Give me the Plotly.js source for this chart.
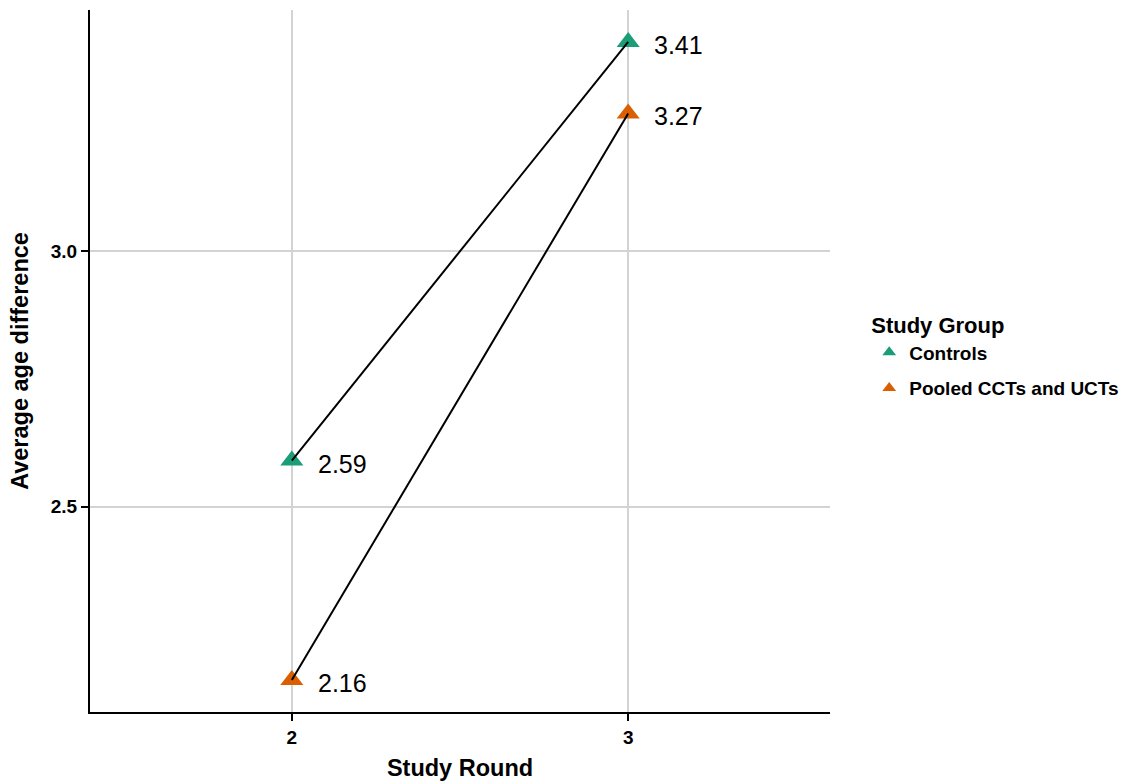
<!DOCTYPE html>
<html>
<head>
<meta charset="utf-8">
<script src="https://cdn.plot.ly/plotly-3.0.1.min.js"></script>
<style>html,body{margin:0;padding:0;background:#fff;}#chart{width:1131px;height:782px;}</style>
</head>
<body>
<div id="chart"></div>
<script>
const rounds = [2, 3];
const groups = ["Controls", "Pooled CCTs and UCTs"];
const controls = [2.59, 3.41];
const pooled = [2.16, 3.27];
const colors = ["#1B9E77", "#D95F02"];
const series = [controls, pooled];

const FF = "Liberation Sans, Arial, sans-serif";
const traces = [];
series.forEach((vals, i) => {
  traces.push({
    x: rounds, y: vals, type: "scatter", mode: "markers", name: "<b>" + groups[i] + "</b>",
    legendgroup: "g" + i,
    marker: {symbol: "triangle-up", size: 20, color: colors[i]},
    hoverinfo: "x+y"
  });
});
series.forEach((vals, i) => {
  traces.push({
    x: rounds, y: vals, type: "scatter", mode: "lines", showlegend: false,
    line: {color: "#000000", width: 2}, hoverinfo: "skip"
  });
});

const annotations = [];
series.forEach((vals) => {
  vals.forEach((v, j) => {
    annotations.push({
      x: rounds[j], y: v, xref: "x", yref: "y", text: v.toFixed(2),
      showarrow: false, xanchor: "left", yanchor: "middle", xshift: 24, yshift: -3,
      font: {family: FF, size: 25, color: "#000"}
    });
  });
});

const layout = {
  width: 1131, height: 782,
  margin: {l: 90, r: 301, t: 10, b: 70, autoexpand: false},
  paper_bgcolor: "#fff", plot_bgcolor: "#fff",
  font: {family: FF, color: "#000"},
  xaxis: {
    range: [1.4, 3.6], tickvals: rounds, ticktext: rounds.map(r => "<b>" + r + "</b>"),
    showgrid: true, gridcolor: "#d3d3d3", gridwidth: 2, zeroline: false,
    showline: true, linecolor: "#000", linewidth: 2,
    ticks: "outside", ticklen: 7, tickwidth: 2, tickcolor: "#000",
    tickfont: {size: 19, family: FF, color: "#000"},
    title: {text: "<b>Study Round</b>", font: {size: 23.5, family: FF}, standoff: 13}
  },
  yaxis: {
    range: [2.0975, 3.4725], tickvals: [2.5, 3.0], ticktext: ["<b>2.5</b>", "<b>3.0</b>"],
    showgrid: true, gridcolor: "#d3d3d3", gridwidth: 2, zeroline: false,
    showline: true, linecolor: "#000", linewidth: 2,
    ticks: "outside", ticklen: 7, tickwidth: 2, tickcolor: "#000",
    tickfont: {size: 19, family: FF, color: "#000"},
    title: {text: "<b>Average age difference</b>", font: {size: 23.5, family: FF}, standoff: 16}
  },
  legend: {
    x: 1.053, xanchor: "left", y: 0.58, yanchor: "top",
    title: {text: "<b>Study Group</b>", font: {size: 22, family: FF}},
    font: {size: 19, family: FF},
    tracegroupgap: 8, itemsizing: "constant"
  },
  annotations: annotations,
  showlegend: true
};

Plotly.newPlot("chart", traces, layout, {displayModeBar: false});
</script>
</body>
</html>
